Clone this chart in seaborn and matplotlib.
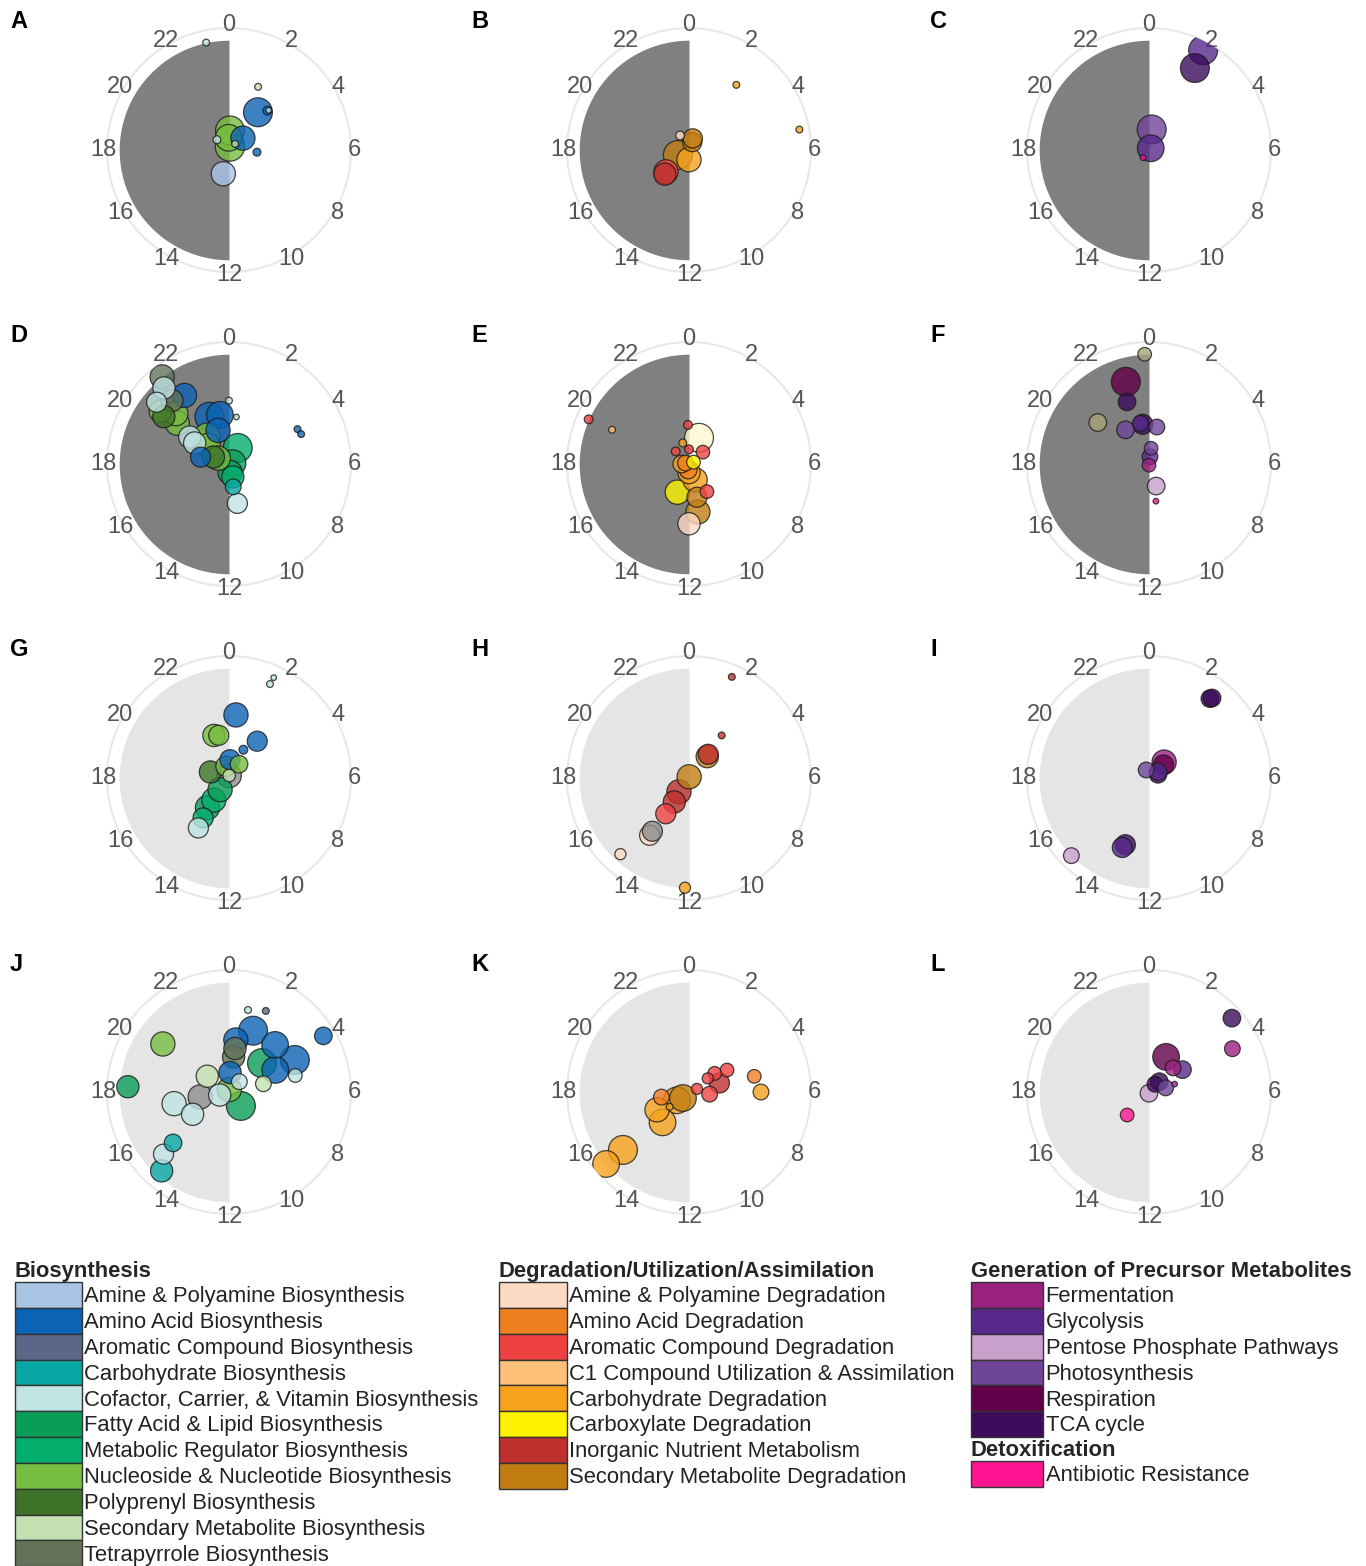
import numpy as np
import pandas as pd
import matplotlib
matplotlib.use("Agg")
import matplotlib.pyplot as plt
from matplotlib.patches import Patch
import seaborn as sns

# ---- legend groups (category keys + labels) ----
bio_keys = ['amineB', 'aaB', 'aromB', 'carbB', 'cofB', 'fatB', 'regB', 'nucB', 'polyB', 'secB', 'tetB']
bio_labels = ['Amine & Polyamine Biosynthesis', 'Amino Acid Biosynthesis', 'Aromatic Compound Biosynthesis',
              'Carbohydrate Biosynthesis', 'Cofactor, Carrier, & Vitamin Biosynthesis',
              'Fatty Acid & Lipid Biosynthesis', 'Metabolic Regulator Biosynthesis',
              'Nucleoside & Nucleotide Biosynthesis', 'Polyprenyl Biosynthesis',
              'Secondary Metabolite Biosynthesis', 'Tetrapyrrole Biosynthesis']
deg_keys = ['amineD', 'aaD', 'aromD', 'c1D', 'carbD', 'carbxD', 'inorg', 'secD']
deg_labels = ['Amine & Polyamine Degradation', 'Amino Acid Degradation', 'Aromatic Compound Degradation',
              'C1 Compound Utilization & Assimilation', 'Carbohydrate Degradation',
              'Carboxylate Degradation', 'Inorganic Nutrient Metabolism', 'Secondary Metabolite Degradation']
gen_keys = ['ferm', 'glyc', 'pent', 'photo', 'resp', 'tca']
gen_labels = ['Fermentation', 'Glycolysis', 'Pentose Phosphate Pathways', 'Photosynthesis',
              'Respiration', 'TCA cycle']
det_keys = ['abx']
det_labels = ['Antibiotic Resistance']

palette = {
    'amineB': '#aac4e6', 'aaB': '#0b63b5', 'aromB': '#5b6788', 'carbB': '#09a6a6', 'cofB': '#c0e3e3',
    'fatB': '#0a9d58', 'regB': '#03ad6c', 'nucB': '#76bd41', 'polyB': '#3d7328', 'secB': '#c4e0b1',
    'tetB': '#62735a',
    'amineD': '#fddac4', 'aaD': '#f07f22', 'aromD': '#ee4242', 'c1D': '#fcc078', 'carbD': '#f6a21c',
    'carbxD': '#fdf100', 'inorg': '#bd302d', 'secD': '#c17d12',
    'ferm': '#9b2181', 'glyc': '#56298b', 'pent': '#c8a0cb', 'photo': '#6f4599', 'resp': '#620049',
    'tca': '#3c0b5a', 'abx': '#fe1491',
    'other': '#8c8c8c', 'misc': '#a8a27a', 'cream': '#fff8d2',
}

# ---- bubbles per panel: (hour, radius, genes, category) ----
panel_A = [(23.2, 0.90, 1.5, 'cofB'), (1.65, 0.57, 1.5, 'secB'), (2.5, 0.39, 27, 'aaB'),
           (2.95, 0.45, 2.5, 'aaB'), (3.0, 0.46, 1, 'cofB'), (3.3, 0.15, 19, 'aaB'),
           (0.2, 0.16, 27, 'nucB'), (23.9, 0.10, 23, 'nucB'), (1.0, 0.03, 28, 'nucB'),
           (20.7, 0.13, 2, 'cofB'), (3.0, 0.07, 1.5, 'secB'), (6.3, 0.23, 2, 'aaB'),
           (12.9, 0.20, 19, 'amineB')]
panel_B = [(2.4, 0.66, 1.5, 'carbD'), (5.3, 0.92, 1.5, 'carbD'), (21.9, 0.14, 2.5, 'amineD'),
           (1.5, 0.07, 12, 'secD'), (1.2, 0.10, 12, 'secD'), (12.0, 0.08, 19, 'carbD'),
           (16.4, 0.10, 27, 'secD'), (15.1, 0.26, 19, 'aromD'), (15.0, 0.28, 16, 'inorg')]
panel_C = [(1.9, 0.93, 27, 'glyc'), (1.95, 0.77, 27, 'tca'), (0.5, 0.17, 27, 'photo'),
           (3.0, 0.02, 23, 'glyc'), (14.5, 0.08, 1, 'abx')]
panel_D = [(21.5, 0.90, 19, 'tetB'), (21.3, 0.82, 16, 'cofB'), (21.8, 0.67, 19, 'aaB'),
           (20.7, 0.78, 13, 'cofB'), (21.2, 0.70, 16, 'tetB'), (20.4, 0.66, 16, 'polyB'),
           (20.5, 0.71, 16, 'nucB'), (20.55, 0.54, 19, 'nucB'), (20.9, 0.60, 19, 'nucB'),
           (20.3, 0.39, 16, 'cofB'), (20.1, 0.33, 16, 'cofB'), (22.5, 0.42, 27, 'aaB'),
           (23.3, 0.41, 23, 'aaB'), (22.8, 0.29, 19, 'aaB'), (18.9, 0.24, 13, 'aaB'),
           (21.4, 0.29, 23, 'nucB'), (20.8, 0.23, 19, 'nucB'), (19.9, 0.10, 19, 'nucB'),
           (19.6, 0.14, 16, 'polyB'), (1.9, 0.15, 27, 'regB'), (5.0, 0.03, 23, 'fatB'),
           (11.5, 0.07, 19, 'fatB'), (10.9, 0.11, 16, 'regB'), (11.3, 0.19, 8, 'carbB'),
           (11.2, 0.33, 13, 'cofB'), (0.0, 0.52, 1.5, 'cofB'), (0.6, 0.39, 1, 'secB'),
           (4.2, 0.63, 1.5, 'aaB'), (4.5, 0.64, 1.5, 'aaB')]
panel_E = [(19.6, 0.90, 2.5, 'aromD'), (19.6, 0.69, 1.5, 'c1D'), (23.9, 0.32, 2.5, 'aromD'),
           (1.4, 0.23, 27, 'cream'), (3.3, 0.15, 6, 'aromD'), (20.9, 0.15, 2.5, 'aromD'),
           (22.9, 0.18, 2, 'carbD'), (0.0, 0.12, 2.5, 'aromD'), (4.5, 0.04, 6, 'carbxD'),
           (19.0, 0.03, 8, 'aaD'), (18.0, 0.06, 10, 'carbD'), (10.6, 0.14, 19, 'carbD'),
           (13.5, 0.25, 19, 'carbxD'), (11.1, 0.28, 13, 'secD'), (9.8, 0.27, 6, 'aromD'),
           (11.3, 0.40, 19, 'secD'), (12.0, 0.49, 16, 'amineD'), (12.0, 0.07, 16, 'carbD'),
           (12.5, 0.05, 10, 'aaD')]
panel_F = [(23.85, 0.90, 6, 'misc'), (22.95, 0.70, 27, 'resp'), (22.7, 0.54, 10, 'tca'),
           (20.6, 0.54, 10, 'misc'), (21.7, 0.34, 10, 'photo'), (23.4, 0.33, 13, 'tca'),
           (23.2, 0.34, 8, 'glyc'), (0.8, 0.31, 8, 'photo'), (0.5, 0.13, 6, 'photo'),
           (0.5, 0.06, 8, 'glyc'), (12.0, 0.01, 6, 'ferm'), (10.8, 0.19, 10, 'pent'),
           (11.3, 0.31, 1, 'abx')]
panel_G = [(1.57, 0.84, 1.5, 'cofB'), (1.6, 0.90, 1, 'cofB'), (0.42, 0.52, 19, 'aaB'),
           (2.5, 0.38, 13, 'aaB'), (22.7, 0.37, 16, 'nucB'), (23.1, 0.36, 13, 'nucB'),
           (1.8, 0.26, 2.5, 'aaB'), (0.2, 0.15, 13, 'aaB'), (23.0, 0.10, 13, 'nucB'),
           (19.2, 0.16, 16, 'polyB'), (0.3, 0.02, 19, 'other'), (0.3, 0.02, 5, 'secB'),
           (2.4, 0.14, 10, 'nucB'), (14.5, 0.12, 19, 'fatB'), (14.3, 0.22, 19, 'regB'),
           (14.4, 0.30, 19, 'fatB'), (14.2, 0.39, 13, 'regB'), (14.1, 0.48, 13, 'cofB')]
panel_H = [(1.53, 0.90, 1.5, 'inorg'), (2.5, 0.44, 1.5, 'inorg'), (2.6, 0.25, 13, 'inorg'),
           (2.7, 0.23, 16, 'secD'), (0.5, 0.01, 19, 'secD'), (14.4, 0.14, 19, 'inorg'),
           (14.1, 0.23, 16, 'inorg'), (14.2, 0.35, 13, 'aromD'), (14.3, 0.57, 13, 'amineD'),
           (14.3, 0.53, 13, 'other'), (14.8, 0.84, 4, 'amineD'), (12.14, 0.90, 4, 'carbD')]
panel_I = [(2.55, 0.835, 10, 'tca'), (2.5, 0.82, 10, 'tca'), (2.9, 0.18, 19, 'ferm'),
           (3.2, 0.16, 13, 'resp'), (3.7, 0.09, 10, 'glyc'), (22.7, 0.07, 8, 'photo'),
           (4.5, 0.08, 10, 'tca'), (15.0, 0.90, 8, 'pent'), (13.3, 0.58, 13, 'tca'),
           (13.4, 0.61, 13, 'glyc')]
panel_J = [(0.87, 0.69, 1.5, 'cofB'), (1.63, 0.73, 1.5, 'aromB'), (1.43, 0.54, 27, 'aaB'),
           (3.95, 0.90, 10, 'aaB'), (0.5, 0.43, 19, 'aaB'), (2.96, 0.54, 23, 'aaB'),
           (4.27, 0.60, 27, 'aaB'), (4.3, 0.42, 23, 'aaB'), (3.25, 0.36, 27, 'fatB'),
           (0.52, 0.36, 16, 'tetB'), (0.5, 0.29, 16, 'tetB'), (0.2, 0.16, 16, 'aaB'),
           (5.07, 0.56, 6, 'cofB'), (5.1, 0.29, 8, 'secB'), (20.4, 0.22, 16, 'secB'),
           (20.4, 0.67, 19, 'nucB'), (18.2, 0.83, 16, 'fatB'), (17.2, 0.46, 19, 'cofB'),
           (17.35, 0.24, 19, 'other'), (15.9, 0.35, 16, 'cofB'), (16.8, 0.08, 16, 'cofB'),
           (0.5, 0.02, 19, 'nucB'), (9.3, 0.15, 27, 'fatB'), (3.0, 0.12, 8, 'cofB'),
           (15.18, 0.62, 10, 'carbB'), (15.1, 0.74, 13, 'cofB'), (14.7, 0.85, 16, 'carbB')]
panel_K = [(4.0, 0.36, 6, 'aromD'), (3.6, 0.26, 6, 'aromD'), (3.6, 0.19, 4, 'aromD'),
           (4.9, 0.26, 13, 'inorg'), (6.4, 0.17, 8, 'aromD'), (4.6, 0.07, 4, 'aromD'),
           (5.1, 0.55, 6, 'aaD'), (6.0, 0.59, 8, 'carbD'), (15.0, 0.07, 23, 'secD'),
           (15.7, 0.12, 23, 'carbD'), (16.06, 0.30, 19, 'carbD'), (14.74, 0.33, 23, 'carbD'),
           (17.3, 0.23, 8, 'aaD'), (15.25, 0.72, 27, 'carbD'), (15.27, 0.90, 23, 'carbD'),
           (15.5, 0.20, 1.5, 'carbD')]
panel_L = [(3.22, 0.91, 10, 'tca'), (4.17, 0.77, 8, 'ferm'), (1.73, 0.32, 23, 'resp'),
           (3.75, 0.33, 10, 'glyc'), (3.0, 0.28, 8, 'ferm'), (4.86, 0.22, 1, 'ferm'),
           (3.0, 0.12, 10, 'tca'), (5.07, 0.14, 8, 'photo'), (2.5, 0.08, 8, 'tca'),
           (12.0, 0.01, 10, 'pent'), (14.9, 0.26, 6, 'abx')]

panels = {'A': panel_A, 'B': panel_B, 'C': panel_C, 'D': panel_D, 'E': panel_E, 'F': panel_F,
          'G': panel_G, 'H': panel_H, 'I': panel_I, 'J': panel_J, 'K': panel_K, 'L': panel_L}
hour_ticks = list(range(0, 24, 2))

sns.set_theme(style='white')
plt.rcParams['font.family'] = ['Liberation Sans', 'DejaVu Sans']

W, H = 1366, 1566
fig = plt.figure(figsize=(W / 100, H / 100), dpi=100)
fig.patch.set_facecolor('white')

R = 122  # px radius of the clock face
col_x = [229, 689, 1149]
row_y = [150, 464, 778, 1092]
letter_x = [10, 471, 930]

for i, (letter, rows) in enumerate(panels.items()):
    row, col = divmod(i, 3)
    cx, cy = col_x[col], row_y[row]
    ax = fig.add_axes([(cx - R) / W, 1 - (cy + R) / H, 2 * R / W, 2 * R / H], projection='polar')
    ax.set_theta_zero_location('N')
    ax.set_theta_direction(-1)

    # night half (12-24 h)
    shade = '#808080' if row < 2 else '#e5e5e5'
    night = np.linspace(np.pi, 2 * np.pi, 200)
    ax.fill_between(night, 0, 0.9, color=shade, lw=0, zorder=0)

    df = pd.DataFrame(rows, columns=['hour', 'r', 'genes', 'category'])
    df['theta'] = df['hour'] / 24 * 2 * np.pi
    df = df.sort_values('genes', ascending=False)
    sns.scatterplot(data=df, x='theta', y='r', hue='category', palette=palette,
                    size='genes', sizes=(0, 1600), size_norm=(0, 100),
                    alpha=0.8, edgecolor='#1a1a1a', linewidth=0.9, legend=False,
                    ax=ax, zorder=3)

    ax.set_ylim(0, 1)
    ax.set_yticks([])
    ax.set_xticks(np.array(hour_ticks) / 24 * 2 * np.pi)
    ax.set_xticklabels([str(h) for h in hour_ticks])
    ax.tick_params(axis='x', pad=-4.5, length=0, labelsize=17, labelcolor='#555555')
    ax.grid(False)
    ax.set_xlabel('')
    ax.set_ylabel('')
    ax.spines['polar'].set_color('#e8e8e8')
    ax.spines['polar'].set_linewidth(1.5)
    ax.spines['polar'].set_zorder(0.2)
    ax.xaxis.set_zorder(2.6)
    ax.set_facecolor('none')

    fig.text(letter_x[col] / W, 1 - (22 + row * 314) / H, letter, ha='left', va='center',
             fontsize=17, fontweight='bold', color='black')


def group_legend(title, keys, labels, x_px, y_px, hlen=3.06):
    handles = [Patch(facecolor=palette[k], edgecolor='#333333', linewidth=1) for k in keys]
    leg = fig.legend(handles, labels, title=title, loc='upper left',
                     bbox_to_anchor=(x_px / W, 1 - y_px / H), bbox_transform=fig.transFigure,
                     frameon=False, borderpad=0, borderaxespad=0, fontsize=15.8,
                     title_fontproperties={'weight': 'bold', 'size': 15.8},
                     alignment='left', handlelength=hlen, handleheight=1.435,
                     handletextpad=0.1, labelspacing=0)
    for t in leg.get_texts():
        t.set_color('#222222')
    return leg


group_legend('Biosynthesis', bio_keys, bio_labels, 15, 1261)
group_legend('Degradation/Utilization/Assimilation', deg_keys, deg_labels, 499, 1261, hlen=3.1)
group_legend('Generation of Precursor Metabolites', gen_keys, gen_labels, 971, 1261, hlen=3.3)
group_legend('Detoxification', det_keys, det_labels, 971, 1440, hlen=3.3)

fig.savefig('out.png', dpi=100, facecolor='white')
